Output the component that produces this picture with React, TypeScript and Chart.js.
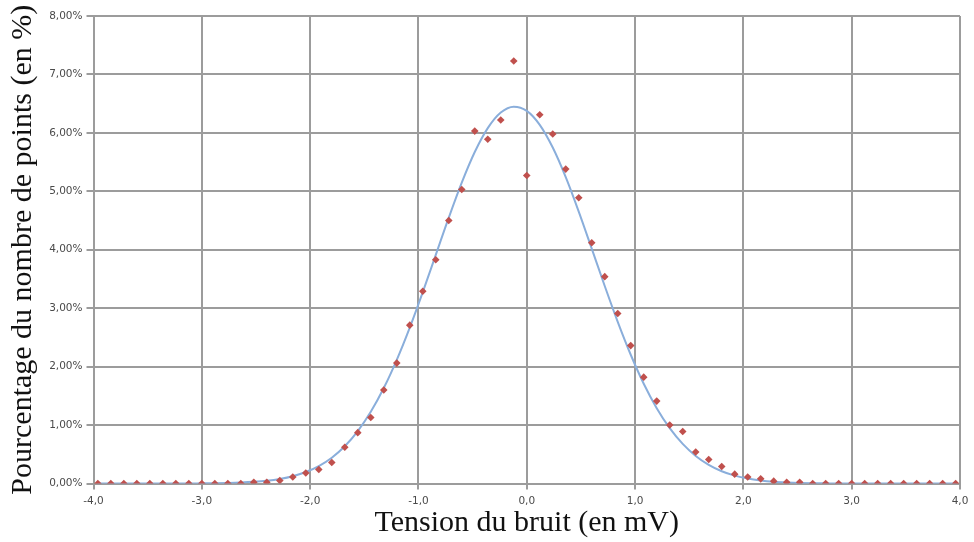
import React, { useEffect, useRef } from 'react';
import { Chart, registerables } from 'chart.js';

Chart.register(...registerables);

// Tension du bruit (mV)
const tensions = [
  -3.96, -3.84, -3.72, -3.6, -3.48, -3.36, -3.24, -3.12, -3.0, -2.88, -2.76, -2.64,
  -2.52, -2.4, -2.28, -2.16, -2.04, -1.92, -1.8, -1.68, -1.56, -1.44, -1.32, -1.2,
  -1.08, -0.96, -0.84, -0.72, -0.6, -0.48, -0.36, -0.24, -0.12, 0.0, 0.12, 0.24,
  0.36, 0.48, 0.6, 0.72, 0.84, 0.96, 1.08, 1.2, 1.32, 1.44, 1.56, 1.68,
  1.8, 1.92, 2.04, 2.16, 2.28, 2.4, 2.52, 2.64, 2.76, 2.88, 3.0, 3.12,
  3.24, 3.36, 3.48, 3.6, 3.72, 3.84, 3.96,
];

// Pourcentage mesuré (en %)
const pourcentages = [
  0, 0, 0, 0, 0, 0, 0, 0, 0, 0, 0, 0,
  0.02, 0.02, 0.05, 0.11, 0.18, 0.24, 0.36, 0.62, 0.87, 1.13, 1.6, 2.06,
  2.71, 3.29, 3.83, 4.5, 5.03, 6.03, 5.89, 6.22, 7.23, 5.27, 6.31, 5.98,
  5.38, 4.89, 4.12, 3.54, 2.91, 2.36, 1.82, 1.41, 1.0, 0.89, 0.54, 0.41,
  0.29, 0.16, 0.11, 0.08, 0.04, 0.02, 0.02, 0, 0, 0, 0, 0,
  0, 0, 0, 0, 0, 0, 0,
];

// Courbe ajustée (en %)
const courbe = [
  0, 0, 0, 0, 0, 0, 0, 0, 0.003, 0.005, 0.009, 0.016,
  0.028, 0.047, 0.078, 0.125, 0.196, 0.298, 0.442, 0.638, 0.897, 1.227, 1.633, 2.116,
  2.668, 3.275, 3.912, 4.549, 5.149, 5.673, 6.082, 6.349, 6.449, 6.377, 6.138, 5.749,
  5.242, 4.653, 4.019, 3.379, 2.766, 2.203, 1.708, 1.289, 0.947, 0.677, 0.471, 0.319,
  0.21, 0.135, 0.084, 0.051, 0.03, 0.018, 0.01, 0.005, 0.003, 0, 0, 0,
  0, 0, 0, 0, 0, 0, 0,
];

const xTickLabels = ['-4,0', '-3,0', '-2,0', '-1,0', '0,0', '1,0', '2,0', '3,0', '4,0'];
const yTickLabels = ['0,00%', '1,00%', '2,00%', '3,00%', '4,00%', '5,00%', '6,00%', '7,00%', '8,00%'];

const xTitle = 'Tension du bruit (en mV)';
const yTitle = 'Pourcentage du nombre de points (en %)';

export default function App() {
  const ref = useRef<HTMLCanvasElement | null>(null);

  useEffect(() => {
    if (!ref.current) return;
    const gridColor = '#9c9c9c';
    const tickFont = { family: 'DejaVu Sans', size: 10.5 };
    const titleFont = { family: 'Liberation Serif', size: 30 };
    const chart = new Chart(ref.current, {
      type: 'scatter',
      data: {
        datasets: [
          {
            label: 'mesure',
            data: tensions.map((x, i) => ({ x, y: pourcentages[i] })),
            backgroundColor: '#c0504d',
            borderColor: '#c0504d',
            pointStyle: 'rectRot',
            pointRadius: 3.8,
            borderWidth: 0,
            order: 0,
          },
          {
            label: 'gauss',
            data: tensions.map((x, i) => ({ x, y: courbe[i] })),
            showLine: true,
            borderColor: '#8aaedb',
            borderWidth: 2,
            pointRadius: 0,
            cubicInterpolationMode: 'monotone',
            order: 1,
          },
        ],
      },
      options: {
        responsive: false,
        animation: false,
        layout: { padding: { top: 16, right: 14, left: 0, bottom: 0 } },
        plugins: { legend: { display: false }, tooltip: { enabled: false } },
        scales: {
          x: {
            type: 'linear',
            min: -4,
            max: 4,
            afterFit: (s: any) => { s.height = 58.5; },
            ticks: {
              stepSize: 1,
              padding: 5,
              color: '#4a4a4a',
              font: tickFont,
              maxRotation: 0,
              callback: (_v: any, i: number) => xTickLabels[i],
            },
            grid: { color: gridColor, lineWidth: 2, tickLength: 6, tickColor: gridColor },
            border: { color: gridColor, width: 2 },
            title: {
              display: true,
              text: xTitle,
              color: '#111111',
              font: titleFont,
              padding: { top: 0, bottom: 0.5 },
            },
          },
          y: {
            type: 'linear',
            min: 0,
            max: 8,
            afterFit: (s: any) => { s.width = 93.5; },
            ticks: {
              stepSize: 1,
              padding: 4,
              color: '#4a4a4a',
              font: tickFont,
              callback: (_v: any, i: number) => yTickLabels[i],
            },
            grid: { color: gridColor, lineWidth: 2, tickLength: 7, tickColor: gridColor },
            border: { color: gridColor, width: 2 },
            title: {
              display: true,
              text: yTitle,
              color: '#111111',
              font: titleFont,
              padding: { top: 5.5, bottom: 0 },
            },
          },
        },
      },
    } as any);
    return () => chart.destroy();
  }, []);

  return (
    <div style={{ position: 'absolute', left: 0, top: 0, width: 974, height: 542, background: '#ffffff' }}>
      <canvas ref={ref} width={974} height={542} style={{ display: 'block', width: 974, height: 542 }} />
    </div>
  );
}
